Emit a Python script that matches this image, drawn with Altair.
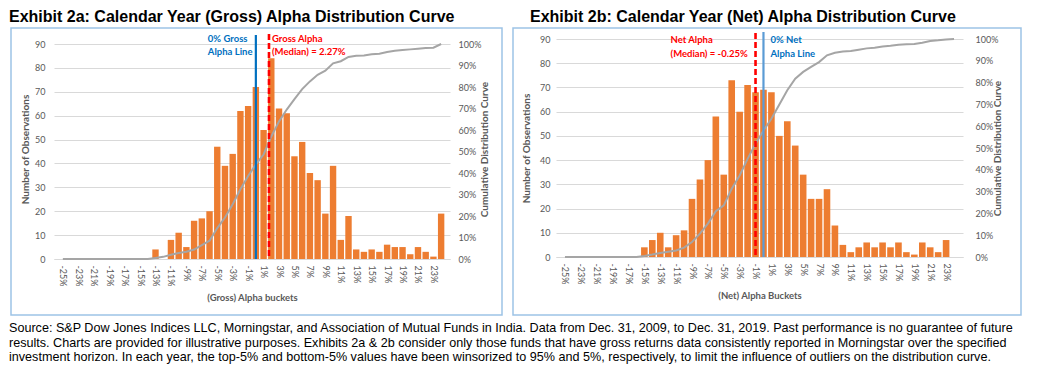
import altair as alt
import pandas as pd

# ---------------- data ----------------
buckets = list(range(-25, 25))  # alpha buckets in %
x_tick_values = list(range(-25, 24, 2))

gross_counts = [0, 0, 0, 0, 0, 0, 0, 0, 0, 0, 0, 0,
                4, 0, 8, 11, 5, 16, 17, 20, 47, 39, 44, 62, 64,
                72, 54, 84, 63, 61, 43, 49, 36, 33, 19, 39, 8, 18,
                4, 3, 4, 3, 6, 5, 5, 2, 5, 3, 1, 19]
gross_cum = [0, 0, 0, 0, 0, 0, 0, 0, 0, 0, 0, 0,
             0.5, 1.0, 2.0, 2.8, 3.4, 4.4, 6.4, 8.5, 14.4, 19.3, 25.5, 32.4, 38.6,
             44.0, 48.6, 57.0, 64.0, 69.5, 74.4, 79.0, 82.6, 85.7, 87.6, 91.0, 92.0, 94.0,
             94.5, 94.7, 95.2, 95.5, 96.3, 96.9, 97.2, 97.5, 97.8, 98.1, 98.3, 100.0]

net_counts = [0, 0, 0, 0, 0, 0, 0, 0, 0, 0,
              4, 7, 10, 4, 9, 11, 24, 32, 40, 58,
              34, 73, 60, 71, 68, 69, 68, 50, 56, 46,
              34, 24, 24, 28, 13, 5, 2, 4, 6, 4,
              6, 4, 6, 2, 1, 6, 4, 2, 7, 0]
net_cum = [0, 0, 0, 0, 0, 0, 0, 0, 0, 0,
           0.5, 1.1, 1.8, 2.4, 3.0, 4.3, 6.9, 10.7, 15.3, 21.0,
           23.7, 31.3, 37.4, 45.0, 52.0, 58.0, 63.4, 70.0, 76.5, 81.8,
           84.9, 87.2, 89.4, 92.5, 93.7, 94.3, 94.5, 95.1, 95.7, 96.0,
           96.6, 96.9, 97.4, 97.6, 97.7, 98.3, 99.1, 99.4, 99.8, 100.0]

left_y_ticks = [0, 10, 20, 30, 40, 50, 60, 70, 80, 90]
right_y_ticks = [0, 0.1, 0.2, 0.3, 0.4, 0.5, 0.6, 0.7, 0.8, 0.9, 1.0]

gross_zero_line = 0
gross_median_line = 1.7
net_zero_line = 0
net_median_line = -1.0

gross_title = "Exhibit 2a: Calendar Year (Gross) Alpha Distribution Curve"
net_title = "Exhibit 2b: Calendar Year (Net) Alpha Distribution Curve"

footnote_lines = [
    "Source: S&P Dow Jones Indices LLC, Morningstar, and Association of Mutual Funds in India. Data from Dec. 31, 2009, to Dec. 31, 2019. Past performance is no guarantee of future",
    "results. Charts are provided for illustrative purposes. Exhibits 2a & 2b consider only those funds that have gross returns data consistently reported in Morningstar over the specified",
    "investment horizon. In each year, the top-5% and bottom-5% values have been winsorized to 95% and 5%, respectively, to limit the influence of outliers on the distribution curve.",
]

# ---------------- styles ----------------
ORANGE = "#ED7D31"
GREY_LINE = "#A5A5A5"
AXIS_TXT = "#595959"
GRID = "#D9D9D9"
BORDER = "#9DC3E6"
RED = "#FF0000"
BLUE_TXT = "#0070C0"
AX_FONT = "Lato"
TXT_FONT = "Liberation Sans"


def panel(counts, cum, W, H, y_top, bar_w, border, title_pos, title, xtitle,
          zero_x, zero_color, zero_top, zero_text, zero_dx,
          med_x, med_top, med_text, med_dx, ann_y, lab_pad, y_title_pad, r_lab_pad, r_title_pad):
    df = pd.DataFrame({"bucket": buckets, "count": counts, "cum": [c / 100 for c in cum]})
    xscale = alt.Scale(domain=[-25.5, 24.5], nice=False, zero=False)
    xaxis = alt.Axis(values=x_tick_values, labelExpr="datum.value + '%'", labelAngle=90,
                     labelAlign="left", labelBaseline="middle", ticks=False, grid=False,
                     domainColor=GRID, labelColor=AXIS_TXT, labelFont=AX_FONT, labelFontSize=9,
                     labelPadding=6, title=xtitle, titleFont=AX_FONT, titleFontSize=9.5,
                     titleFontWeight="bold", titleColor=AXIS_TXT, titlePadding=7,
                     labelOverlap=False)
    X = alt.X("bucket:Q", scale=xscale, axis=xaxis)

    bars = alt.Chart(df).mark_bar(color=ORANGE, size=bar_w).encode(
        x=X,
        y=alt.Y("count:Q", scale=alt.Scale(domain=[0, y_top], nice=False),
                axis=alt.Axis(values=left_y_ticks, ticks=False, domain=False, grid=True,
                              gridColor=GRID, labelColor=AXIS_TXT, labelFont=AX_FONT,
                              labelFontSize=9, labelPadding=lab_pad,
                              title="Number of Observations", titleFont=AX_FONT,
                              titleFontSize=10, titleFontWeight="bold", titleColor=AXIS_TXT,
                              titlePadding=y_title_pad)),
    )
    line = alt.Chart(df).mark_line(color=GREY_LINE, strokeWidth=2).encode(
        x=X,
        y=alt.Y("cum:Q", scale=alt.Scale(domain=[0, y_top / 90], nice=False),
                axis=alt.Axis(orient="right", values=right_y_ticks, format=".0%", ticks=False,
                              domain=False, grid=False, labelColor=AXIS_TXT, labelFont=AX_FONT,
                              labelFontSize=9, labelPadding=r_lab_pad,
                              title="Cumulative Distribution Curve", titleAngle=270,
                              titleFont=AX_FONT, titleFontSize=10, titleFontWeight="bold",
                              titleColor=AXIS_TXT, titlePadding=r_title_pad)),
    )
    zdf = pd.DataFrame({"bucket": [zero_x]})
    mdf = pd.DataFrame({"bucket": [med_x]})
    zero_rule = alt.Chart(zdf).mark_rule(color=zero_color, strokeWidth=2.2).encode(
        x=X, y=alt.value(zero_top), y2=alt.value(H))
    med_rule = alt.Chart(mdf).mark_rule(color=RED, strokeWidth=2.6, strokeDash=[6, 3]).encode(
        x=X, y=alt.value(med_top), y2=alt.value(H))

    zdf2 = pd.DataFrame({"bucket": [zero_x, zero_x], "t": zero_text, "yy": ann_y})
    mdf2 = pd.DataFrame({"bucket": [med_x, med_x], "t": med_text, "yy": ann_y})
    zero_txt = alt.Chart(zdf2).mark_text(align="left", baseline="middle", dx=zero_dx,
                                         font=AX_FONT, fontSize=9.5, fontWeight="bold",
                                         color=BLUE_TXT).encode(
        x=X, y=alt.Y("yy:Q", scale=None), text="t:N")
    med_txt = alt.Chart(mdf2).mark_text(align="left", baseline="middle", dx=med_dx,
                                        font=AX_FONT, fontSize=9.5, fontWeight="bold",
                                        color=RED).encode(
        x=X, y=alt.Y("yy:Q", scale=None), text="t:N")

    one = pd.DataFrame({"a": [0]})
    frame = alt.Chart(one).mark_rect(fill="transparent", stroke=BORDER, strokeWidth=1.5).encode(
        x=alt.value(border[0]), x2=alt.value(border[1]),
        y=alt.value(border[2]), y2=alt.value(border[3]))
    ttl = alt.Chart(pd.DataFrame({"t": [title]})).mark_text(
        align="left", baseline="alphabetic", font=TXT_FONT, fontSize=16, fontWeight="bold",
        color="black").encode(x=alt.value(title_pos[0]), y=alt.value(title_pos[1]), text="t:N")

    return alt.layer(frame, bars, line, zero_rule, med_rule, zero_txt, med_txt, ttl).resolve_scale(
        y="independent").properties(width=W, height=H)


# left plot: 90 sits 5px below the plot top, so the domain top is a little above 90
left = panel(gross_counts, gross_cum, 396, 220, 90 * 220 / 215, 6.4, [-43, 448, -11, 276], [-45, -17],
             gross_title, "(Gross) Alpha buckets",
             gross_zero_line, "#0070C0", -4, ["0% Gross", "Alpha Line"], -48,
             gross_median_line, -5, ["Gross Alpha", "(Median) = 2.27%"], 3,
             [0, 13], 9, 4, 8, 9)
right = panel(net_counts, net_cum, 407, 218, 90, 6.6, [-43, 465, -11, 276], [-26, -17],
              net_title, "(Net) Alpha Buckets",
              net_zero_line, "#5B9BD5", -7, ["0% Net", "Alpha Line"], 7,
              net_median_line, -6, ["Net Alpha", "(Median) = -0.25%"], -85,
              [1, 15], 6, 8, 12, 5)

foot = alt.Chart(pd.DataFrame({"t": ["\n".join(footnote_lines)]})).mark_text(
    align="left", baseline="top", lineBreak="\n", lineHeight=14.5, font=TXT_FONT, fontSize=12.6,
    color="black").encode(x=alt.value(-45), y=alt.value(0), text="t:N").properties(width=1, height=1)

chart = alt.vconcat(
    alt.hconcat(left, right, spacing=7),
    foot,
    spacing=4,
).properties(
    padding={"left": 0, "top": 0, "right": 5, "bottom": 0},
    background="white",
).configure_view(stroke="transparent")

chart.save("out.html", embed_options={"renderer": "svg", "actions": False})
